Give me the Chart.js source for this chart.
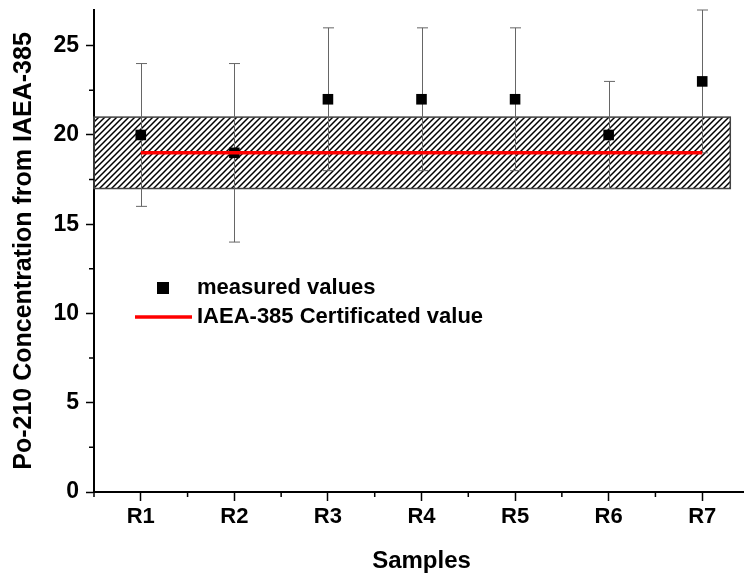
<!DOCTYPE html>
<html><head><meta charset="utf-8">
<script src="https://cdn.jsdelivr.net/npm/chart.js@4"></script>
<style>
html,body{margin:0;padding:0;overflow:hidden;background:#fff;width:744px;height:576px}
#wrap{position:relative;width:760px;height:576px}
</style>
</head><body><div id="wrap"><canvas id="c" width="760" height="576"></canvas></div>
<script>
const categories = ['R1','R2','R3','R4','R5','R6','R7'];
const measuredValues = [20,19,22,22,22,20,23];
const errorLow = [16,14,18,18,18,17,19];
const errorHigh = [24,24,26,26,26,23,27];
const certifiedValue = 19;
const certifiedRangeLow = 17;
const certifiedRangeHigh = 21;
const rangeXExtent = [0.5, 7.3];
const yMajorTicks = [0,5,10,15,20,25];
const yMinorTicks = [2.5,7.5,12.5,17.5,22.5];
const xMinorTicks = [0.5,1.5,2.5,3.5,4.5,5.5,6.5,7.5];
const legendLabels = ['measured values','IAEA-385 Certificated value'];

const FONT = '"Liberation Sans", Arial, sans-serif';

function hatchPattern(ctx){
  const s = 6, c = document.createElement('canvas');
  c.width = s; c.height = s;
  const g = c.getContext('2d');
  g.strokeStyle = '#000'; g.lineWidth = 1.5;
  g.beginPath();
  g.moveTo(0, s); g.lineTo(s, 0);
  g.moveTo(-1, 1); g.lineTo(1, -1);
  g.moveTo(s - 1, s + 1); g.lineTo(s + 1, s - 1);
  g.stroke();
  return ctx.createPattern(c, 'repeat');
}

const bandPlugin = {
  id: 'bandAndErrors',
  beforeDatasetsDraw(chart){
    const {ctx, scales:{x, y}} = chart;
    const x0 = x.getPixelForValue(rangeXExtent[0]), x1 = x.getPixelForValue(rangeXExtent[1]);
    const yt = y.getPixelForValue(certifiedRangeHigh), yb = y.getPixelForValue(certifiedRangeLow);
    ctx.save();
    ctx.fillStyle = hatchPattern(ctx);
    ctx.fillRect(x0, yt, x1 - x0, yb - yt);
    ctx.strokeStyle = '#444'; ctx.lineWidth = 1.5;
    ctx.strokeRect(x0, yt, x1 - x0, yb - yt);
    ctx.strokeStyle = '#666'; ctx.lineWidth = 1;
    measuredValues.forEach((v, i) => {
      const px = Math.round(x.getPixelForValue(i + 1)) + 0.5;
      const lo = y.getPixelForValue(errorLow[i]), hi = y.getPixelForValue(errorHigh[i]);
      ctx.beginPath();
      ctx.moveTo(px, lo); ctx.lineTo(px, hi);
      ctx.moveTo(px - 5.5, lo); ctx.lineTo(px + 5.5, lo);
      ctx.moveTo(px - 5.5, hi); ctx.lineTo(px + 5.5, hi);
      ctx.stroke();
    });
    ctx.restore();
  }
};

const extrasPlugin = {
  id: 'extras',
  afterDraw(chart){
    const {ctx, chartArea: ca, scales:{x, y}} = chart;
    ctx.save();
    ctx.strokeStyle = '#000'; ctx.lineWidth = 1.5;
    ctx.beginPath();
    yMinorTicks.forEach(v => { const py = y.getPixelForValue(v); ctx.moveTo(ca.left - 5, py); ctx.lineTo(ca.left, py); });
    xMinorTicks.forEach(v => { const px = x.getPixelForValue(v); ctx.moveTo(px, ca.bottom); ctx.lineTo(px, ca.bottom + 5); });
    ctx.stroke();
    // legend
    const lx = ca.left, ly = ca.top;
    ctx.fillStyle = '#000';
    ctx.fillRect(lx + 63, ly + 272, 12, 12);
    ctx.strokeStyle = '#ff0000'; ctx.lineWidth = 3.5;
    ctx.beginPath(); ctx.moveTo(lx + 41, ly + 307); ctx.lineTo(lx + 98, ly + 307); ctx.stroke();
    ctx.font = 'bold 22px ' + FONT;
    ctx.textBaseline = 'middle'; ctx.textAlign = 'left';
    ctx.fillText(chart.data.datasets[0].label, lx + 103, ly + 278);
    ctx.fillText(chart.data.datasets[1].label, lx + 103, ly + 307);
    ctx.restore();
  }
};

new Chart(document.getElementById('c'), {
  type: 'scatter',
  data: {
    datasets: [
      {
        label: legendLabels[0],
        data: categories.map((c, i) => ({x: i + 1, y: measuredValues[i]})),
        pointStyle: 'rect', pointRadius: 7.5, pointHoverRadius: 7.5,
        backgroundColor: '#000', borderColor: '#000', borderWidth: 0,
        showLine: false, order: 1
      },
      {
        label: legendLabels[1],
        type: 'line',
        data: [{x: 1, y: certifiedValue}, {x: categories.length, y: certifiedValue}],
        borderColor: '#ff0000', borderWidth: 3.5, pointRadius: 0, fill: false, order: 0
      }
    ]
  },
  options: {
    responsive: false, animation: false, events: [],
    layout: {padding: {top: 10, right: 11, left: 0, bottom: 0}},
    plugins: {legend: {display: false}, tooltip: {enabled: false}},
    scales: {
      x: {
        type: 'linear', min: 0.5, max: 7.5,
        afterBuildTicks: s => { s.ticks = categories.map((c, i) => ({value: i + 1})); },
        afterFit: s => { s.height = 84; s.paddingLeft = 0; s.paddingRight = 0; },
        ticks: {
          callback: v => categories[Math.round(v) - 1] ?? '',
          font: {family: FONT, size: 22, weight: 'bold'}, color: '#000',
          padding: 3, maxRotation: 0, autoSkip: false
        },
        grid: {drawOnChartArea: false, drawTicks: true, tickLength: 9, tickColor: '#000', tickWidth: 1.5},
        border: {display: true, color: '#000', width: 2},
        title: {display: true, text: 'Samples', color: '#000',
          font: {family: FONT, size: 24, weight: 'bold'}, padding: {top: 0, bottom: 0}}
      },
      y: {
        type: 'linear', min: 0, max: 27,
        afterBuildTicks: s => { s.ticks = yMajorTicks.map(v => ({value: v})); },
        afterFit: s => { s.width = 94; s.paddingTop = 0; s.paddingBottom = 0; },
        ticks: {font: {family: FONT, size: 23, weight: 'bold'}, color: '#000', padding: 7},
        grid: {drawOnChartArea: false, drawTicks: true, tickLength: 8, tickColor: '#000', tickWidth: 1.5},
        border: {display: true, color: '#000', width: 2},
        title: {display: true, text: 'Po-210 Concentration from IAEA-385', color: '#000',
          font: {family: FONT, size: 25, weight: 'bold'}, padding: {top: 9, bottom: 0}}
      }
    }
  },
  plugins: [bandPlugin, extrasPlugin]
});
</script>
</body></html>
